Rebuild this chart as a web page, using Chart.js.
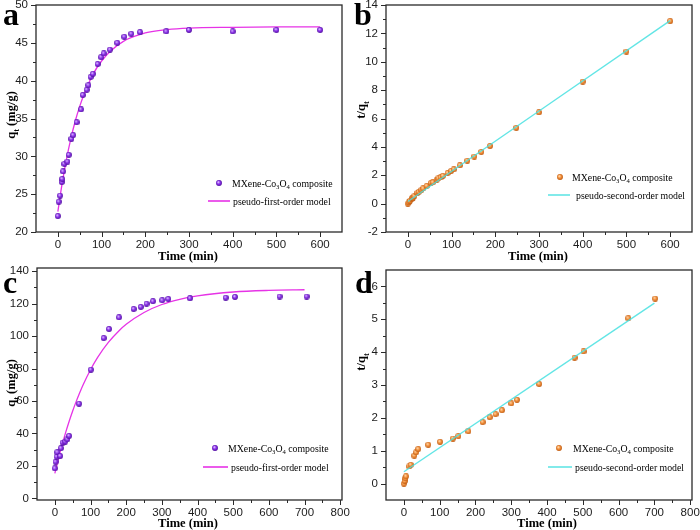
<!DOCTYPE html>
<html><head><meta charset="utf-8">
<script src="https://cdn.jsdelivr.net/npm/chart.js@4.4.0/dist/chart.umd.min.js"></script>
<style>
html,body{margin:0;padding:0;background:#fff;}
#wrap{position:relative;width:700px;height:530px;}
.p{position:absolute;width:350px;height:265px;}
</style></head>
<body><div id="wrap">
<div class="p" style="left:0;top:0"><canvas id="ca" width="350" height="265"></canvas></div>
<div class="p" style="left:350px;top:0"><canvas id="cb" width="350" height="265"></canvas></div>
<div class="p" style="left:0;top:265px"><canvas id="cc" width="350" height="265"></canvas></div>
<div class="p" style="left:350px;top:265px"><canvas id="cd" width="350" height="265"></canvas></div>
</div>
<script>
// ---- Panel a data ----
const aTime = [0,2,5,9,10,12,15,22,25,31,35,43,53,57,66,70,75,80,91,99,105,119,136,152,168,188,248,300,400,500,600];
const aQ    = [22.1,24.0,24.8,26.6,27.0,28.0,29.0,29.3,30.2,32.3,32.8,34.5,36.2,38.1,38.8,39.4,40.5,40.9,42.2,43.1,43.6,44.1,45.0,45.8,46.2,46.4,46.5,46.7,46.5,46.7,46.7];
const aFitTime = [0,10,20,30,40,50,60,80,100,120,150,200,250,300,400,500,600];
const aFitQ    = [22.7,26.5,29.7,32.4,34.7,36.6,38.2,40.8,42.6,43.9,45.2,46.3,46.75,46.95,47.05,47.1,47.1];
// ---- Panel b data ----
const bTime = [0,2,5,9,10,12,15,22,25,31,35,43,53,57,66,70,75,80,91,99,105,119,136,152,168,188,248,300,400,500,600];
const bTQ   = [0,0.10,0.20,0.34,0.37,0.43,0.52,0.75,0.83,0.96,1.07,1.25,1.46,1.50,1.70,1.78,1.85,1.96,2.16,2.30,2.41,2.70,3.02,3.32,3.64,4.06,5.34,6.43,8.60,10.72,12.86];
const bFitTime = [0,600];
const bFitTQ   = [0.15,12.9];
// ---- Panel c data ----
const cTime = [0,2,5,7,15,17,22,29,35,40,68,101,137,152,180,221,241,257,275,301,318,379,479,505,630,706];
const cQ    = [18.5,22.6,25.7,28.4,26.1,30.9,34.4,35.0,36.4,38.5,58.3,79.3,98.8,104.4,111.6,116.7,118.0,120.0,121.5,122.1,122.9,123.3,123.7,124.2,124.4,124.4];
const cFitTime = [0,10,20,30,40,50,60,70,80,100,120,150,180,200,250,300,350,400,500,600,700];
const cFitQ    = [15.4,24.4,32.7,40.4,47.4,53.9,59.8,65.3,70.4,79.3,86.9,96.1,103.3,107.3,114.6,119.5,122.7,124.8,127.2,128.2,128.6];
// ---- Panel d data ----
const dTime = [0,2,4,6,15,19,29,34,40,68,101,137,152,180,220,240,256,274,300,316,378,477,502,627,702];
const dTQ   = [0,0.08,0.16,0.22,0.52,0.57,0.85,0.95,1.05,1.18,1.27,1.37,1.44,1.59,1.87,2.02,2.11,2.23,2.44,2.55,3.03,3.83,4.02,5.03,5.63];
const dFitTime = [0,700];
const dFitTQ   = [0.36,5.49];
// ---- Tick labels ----
const xTicks600 = [0,100,200,300,400,500,600];
const xTicks800 = [0,100,200,300,400,500,600,700,800];
const aYTicks = [20,25,30,35,40,45,50];
const bYTicks = [-2,0,2,4,6,8,10,12,14];
const cYTicks = [0,20,40,60,80,100,120,140];
const dYTicks = [0,1,2,3,4,5,6];
const legendPoint = 'MXene-Co3O4 composite';
const legendPFO = 'pseudo-first-order model';
const legendPSO = 'pseudo-second-order model';

function pts(xs, ys){ return xs.map((x,i)=>({x:x,y:ys[i]})); }
function sphere(c1,c2,c3){
  const s=6, cv=document.createElement('canvas'); cv.width=cv.height=s;
  const g=cv.getContext('2d');
  const gr=g.createRadialGradient(2.2,2.0,0.2,3,3,3.2);
  gr.addColorStop(0,c1); gr.addColorStop(0.45,c2); gr.addColorStop(1,c3);
  g.fillStyle=gr; g.beginPath(); g.arc(3,3,2.95,0,Math.PI*2); g.fill();
  return cv;
}
const purpleDot = sphere('#e6ccff','#8f35ee','#4a0a96');
const orangeDot = sphere('#ffe0b8','#f59440','#b85208');

const SERIF = "'Liberation Serif','Times New Roman',serif";
const TICKFONT = "'Liberation Sans',Arial,sans-serif";
const LEGSIZE = 9.8;

function measureParts(ctx, parts, size, bold){
  let w=0;
  parts.forEach(p=>{ ctx.font=(bold?'bold ':'')+(p.sub?size*0.68:size)+'px '+SERIF; w+=ctx.measureText(p.t).width; });
  return w;
}
function drawParts(ctx, parts, x, y, size, bold){
  parts.forEach(p=>{
    const fs = p.sub?size*0.68:size;
    ctx.font=(bold?'bold ':'')+fs+'px '+SERIF;
    ctx.fillText(p.t, x, p.sub? y+size*0.28 : y);
    x += ctx.measureText(p.t).width;
  });
}
function splitSub(str){
  return [{t:'MXene-Co'},{t:'3',sub:true},{t:'O'},{t:'4',sub:true},{t:' composite'}];
}

const panelPlugin = {
  id:'panel',
  afterDraw(chart, args, o){
    const ctx=chart.ctx, a=chart.chartArea, xs=chart.scales.x, ys=chart.scales.y;
    ctx.save();
    ctx.strokeStyle='#2a2a2a'; ctx.lineWidth=1.3;
    ctx.strokeRect(a.left, a.top, a.right-a.left, a.bottom-a.top);
    ctx.lineWidth=1;
    ctx.beginPath();
    o.xMajor.forEach(v=>{ const p=Math.round(xs.getPixelForValue(v))+0.5; ctx.moveTo(p,a.bottom); ctx.lineTo(p,a.bottom+5); });
    o.xMinor.forEach(v=>{ const p=Math.round(xs.getPixelForValue(v))+0.5; ctx.moveTo(p,a.bottom); ctx.lineTo(p,a.bottom+3); });
    o.yMajor.forEach(v=>{ const p=Math.round(ys.getPixelForValue(v))+0.5; ctx.moveTo(a.left,p); ctx.lineTo(a.left-5,p); });
    o.yMinor.forEach(v=>{ const p=Math.round(ys.getPixelForValue(v))+0.5; ctx.moveTo(a.left,p); ctx.lineTo(a.left-3,p); });
    ctx.stroke();
    ctx.fillStyle='#000';
    ctx.font='bold 32px '+SERIF; ctx.textBaseline='alphabetic'; ctx.textAlign='left';
    ctx.fillText(o.letter, o.letterX, o.letterY);
    ctx.font='bold 12.5px '+SERIF; ctx.textAlign='center';
    ctx.fillText('Time (min)', o.xtX, o.xtY);
    ctx.save();
    ctx.translate(o.ytX, o.ytY); ctx.rotate(-Math.PI/2);
    ctx.textAlign='left';
    const w=measureParts(ctx,o.yParts,12.5,true);
    drawParts(ctx,o.yParts,-w/2,4,12.5,true);
    ctx.restore();
    ctx.textAlign='left';
    const L=o.leg;
    ctx.drawImage(o.dot, L.mx-3, L.my-3, 6, 6);
    drawParts(ctx, splitSub(legendPoint), L.tx, L.my+3.5, LEGSIZE, false);
    ctx.strokeStyle=o.lineColor; ctx.lineWidth=1.6;
    ctx.beginPath(); ctx.moveTo(L.lx1, L.ly); ctx.lineTo(L.lx2, L.ly); ctx.stroke();
    ctx.font=LEGSIZE+'px '+SERIF;
    ctx.fillText(o.lineLabel, L.t2x, L.ly+3.5);
    ctx.restore();
  }
};

function zeroPad(s){ s.paddingTop=0; s.paddingBottom=0; s.paddingLeft=0; s.paddingRight=0; }

function makeChart(id, cfg){
  const area=cfg.area;
  new Chart(document.getElementById(id), {
    type:'scatter',
    data:{datasets:[
      {label:legendPoint, data:pts(cfg.t,cfg.v), pointStyle:cfg.dot, pointRadius:3, pointHoverRadius:3, order:cfg.pointOrder, showLine:false},
      {label:cfg.lineLabel, data:pts(cfg.ft,cfg.fv), showLine:true, pointRadius:0, borderColor:cfg.lineColor, borderWidth:cfg.lineWidth, cubicInterpolationMode:'monotone', fill:false, order:cfg.lineOrder}
    ]},
    options:{
      responsive:false, animation:false, devicePixelRatio:1,
      layout:{padding:{left:0,right:350-area.r,top:area.t,bottom:0}, autoPadding:false},
      plugins:{legend:{display:false}, tooltip:{enabled:false},
        panel:{xMajor:cfg.xTicks, xMinor:cfg.xMinor, yMajor:cfg.yTicks, yMinor:cfg.yMinor,
          letter:cfg.letter, letterX:cfg.letterX, letterY:cfg.letterY,
          xtX:cfg.xtX, xtY:cfg.xtY, ytX:cfg.ytX, ytY:cfg.ytY, yParts:cfg.yParts,
          leg:cfg.leg, dot:cfg.dot, lineColor:cfg.lineColor, lineLabel:cfg.lineLabel}},
      scales:{
        x:{type:'linear', min:cfg.xmin, max:cfg.xmax,
          afterBuildTicks:s=>{ s.ticks=cfg.xTicks.map(v=>({value:v})); },
          afterFit:s=>{ s.height=265-area.b; zeroPad(s); },
          grid:{display:false, drawTicks:false}, border:{display:false},
          ticks:{padding:6, autoSkip:false, maxRotation:0, color:'#1c1c1c', font:{family:TICKFONT, size:11.5}}},
        y:{type:'linear', min:cfg.ymin, max:cfg.ymax,
          afterBuildTicks:s=>{ s.ticks=cfg.yTicks.map(v=>({value:v})); },
          afterFit:s=>{ s.width=area.l; zeroPad(s); },
          grid:{display:false, drawTicks:false}, border:{display:false},
          ticks:{padding:8, autoSkip:false, color:'#1c1c1c', font:{family:TICKFONT, size:11.5}}}
      }
    },
    plugins:[panelPlugin]
  });
}

const minor600=[50,150,250,350,450,550];
const minor800=[50,150,250,350,450,550,650,750];
const magenta='#e633e6', cyan='rgba(70,225,225,0.85)';

makeChart('ca',{area:{l:36,r:342,t:5,b:232}, t:aTime, v:aQ, ft:aFitTime, fv:aFitQ,
  xmin:-50,xmax:650,ymin:20,ymax:50, xTicks:xTicks600, xMinor:minor600, yTicks:aYTicks, yMinor:[22.5,27.5,32.5,37.5,42.5,47.5],
  dot:purpleDot, lineColor:magenta, lineWidth:1.3, lineLabel:legendPFO, pointOrder:0, lineOrder:1,
  letter:'a', letterX:3, letterY:25, xtX:188, xtY:260, ytX:11, ytY:115,
  yParts:[{t:'q'},{t:'t',sub:true},{t:' (mg/g)'}],
  leg:{mx:219,my:183,tx:232,lx1:208,lx2:230,ly:201,t2x:233}});

makeChart('cb',{area:{l:36,r:342,t:5,b:232}, t:bTime, v:bTQ, ft:bFitTime, fv:bFitTQ,
  xmin:-50,xmax:650,ymin:-2,ymax:14, xTicks:xTicks600, xMinor:minor600, yTicks:bYTicks, yMinor:[-1,1,3,5,7,9,11,13],
  dot:orangeDot, lineColor:cyan, lineWidth:1.4, lineLabel:legendPSO, pointOrder:1, lineOrder:0,
  letter:'b', letterX:4, letterY:25, xtX:188, xtY:260, ytX:11, ytY:110,
  yParts:[{t:'t/q'},{t:'t',sub:true}],
  leg:{mx:210,my:177,tx:222,lx1:198,lx2:220,ly:195,t2x:226}});

makeChart('cc',{area:{l:37,r:342,t:3,b:235}, t:cTime, v:cQ, ft:cFitTime, fv:cFitQ,
  xmin:-50,xmax:805,ymin:-1,ymax:142, xTicks:xTicks800, xMinor:minor800, yTicks:cYTicks, yMinor:[10,30,50,70,90,110,130],
  dot:purpleDot, lineColor:magenta, lineWidth:1.3, lineLabel:legendPFO, pointOrder:0, lineOrder:1,
  letter:'c', letterX:3, letterY:28, xtX:188, xtY:262, ytX:11, ytY:118,
  yParts:[{t:'q'},{t:'t',sub:true},{t:' (mg/g)'}],
  leg:{mx:215,my:183,tx:228,lx1:203,lx2:228,ly:202,t2x:231}});

makeChart('cd',{area:{l:36,r:342,t:5,b:235}, t:dTime, v:dTQ, ft:dFitTime, fv:dFitTQ,
  xmin:-50,xmax:805,ymin:-0.5,ymax:6.5, xTicks:xTicks800, xMinor:minor800, yTicks:dYTicks, yMinor:[0.5,1.5,2.5,3.5,4.5,5.5],
  dot:orangeDot, lineColor:cyan, lineWidth:1.4, lineLabel:legendPSO, pointOrder:1, lineOrder:0,
  letter:'d', letterX:5, letterY:28, xtX:197, xtY:262, ytX:11, ytY:97,
  yParts:[{t:'t/q'},{t:'t',sub:true}],
  leg:{mx:209,my:183,tx:223,lx1:198,lx2:222,ly:202,t2x:225}});
</script>
</body></html>
